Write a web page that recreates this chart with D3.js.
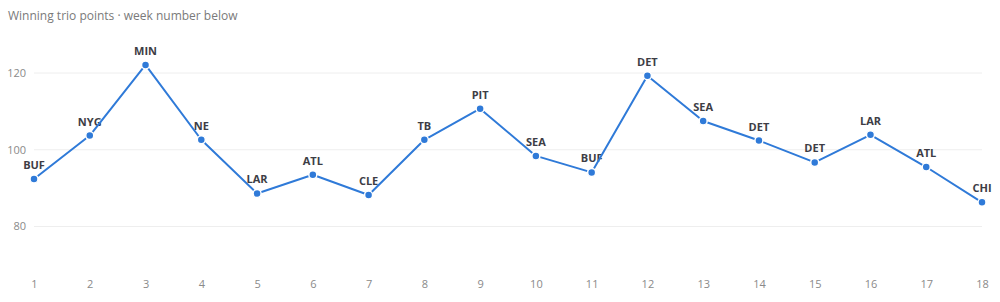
<!DOCTYPE html>
<html>
<head>
<meta charset="utf-8">
<script src="https://cdn.jsdelivr.net/npm/d3@7"></script>
<style>
  body { margin: 0; background: #fff; }
  svg { display: block; font-family: "Open Sans", "Noto Sans", sans-serif; }
</style>
</head>
<body>
<div id="chart"></div>
<script>
// week numbers, winning team and the trio points
const weeks = d3.range(1, 19);
const teams = ['BUF', 'NYG', 'MIN', 'NE', 'LAR', 'ATL', 'CLE', 'TB', 'PIT',
               'SEA', 'BUF', 'DET', 'SEA', 'DET', 'DET', 'LAR', 'ATL', 'CHI'];
const points = [92.4, 103.7, 122.1, 102.6, 88.6, 93.5, 88.2, 102.6, 110.7,
                98.4, 94.1, 119.3, 107.5, 102.4, 96.7, 103.9, 95.5, 86.3];
const yTicks = [80, 100, 120];

const width = 1000, height = 302;
const lineColor = '#2f7ad8';

const svg = d3.select('#chart').append('svg')
    .attr('width', width)
    .attr('height', height);

const x = d3.scaleLinear()
    .domain([1, 18])
    .range([34, 982]);

const y = d3.scaleLinear()
    .domain([80, 120])
    .range([226.5, 73]);

svg.append('text')
    .attr('x', 8)
    .attr('y', 20)
    .attr('fill', '#7a7a7a')
    .style('font-size', '12px')
    .text('Winning trio points · week number below');

// horizontal grid
const grid = svg.append('g').attr('class', 'grid');
grid.selectAll('line')
  .data(yTicks)
  .join('line')
    .attr('x1', x(1))
    .attr('x2', x(18))
    .attr('y1', d => y(d))
    .attr('y2', d => y(d))
    .attr('stroke', '#eeeeee')
    .attr('stroke-width', 1);

grid.selectAll('text')
  .data(yTicks)
  .join('text')
    .attr('x', 26)
    .attr('y', d => y(d))
    .attr('dy', '0.35em')
    .attr('text-anchor', 'end')
    .attr('fill', '#8a8a8a')
    .style('font-size', '11px')
    .text(d => d);

// week axis
const xAxis = svg.append('g')
    .attr('transform', `translate(0,${284})`)
    .call(d3.axisBottom(x).tickValues(weeks).tickSize(0).tickFormat(d3.format('d')));
xAxis.select('.domain').remove();
xAxis.selectAll('text')
    .attr('fill', '#8a8a8a')
    .style('font-family', '"Open Sans", "Noto Sans", sans-serif')
    .style('font-size', '11px')
    .attr('dy', '0.35em')
    .attr('y', 0);

const data = weeks.map((w, i) => ({week: w, team: teams[i], value: points[i]}));

// team labels
svg.append('g')
  .selectAll('text')
  .data(data)
  .join('text')
    .attr('x', d => x(d.week))
    .attr('y', d => y(d.value) - 10)
    .attr('text-anchor', 'middle')
    .attr('fill', '#3d3d45')
    .style('font-size', '11px')
    .style('font-weight', 'bold')
    .text(d => d.team);

const line = d3.line()
    .x(d => x(d.week))
    .y(d => y(d.value));

svg.append('path')
    .datum(data)
    .attr('d', line)
    .attr('fill', 'none')
    .attr('stroke', lineColor)
    .attr('stroke-width', 2)
    .attr('stroke-linejoin', 'round');

svg.append('g')
  .selectAll('circle')
  .data(data)
  .join('circle')
    .attr('cx', d => x(d.week))
    .attr('cy', d => y(d.value))
    .attr('r', 4)
    .attr('fill', lineColor)
    .attr('stroke', '#fff')
    .attr('stroke-width', 1.5);
</script>
</body>
</html>
